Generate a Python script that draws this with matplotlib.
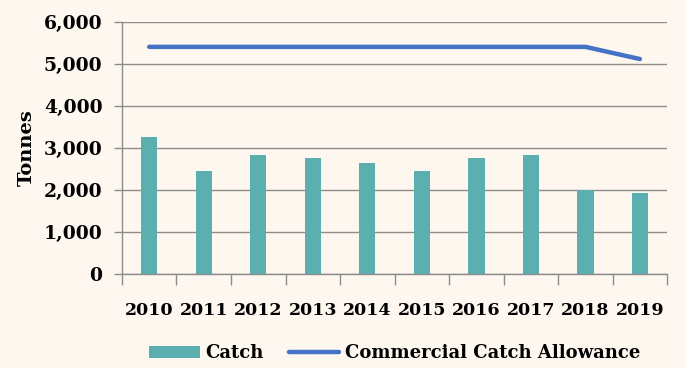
import numpy as np
import matplotlib
matplotlib.use("Agg")
import matplotlib.pyplot as plt

years = ["2010", "2011", "2012", "2013", "2014", "2015", "2016", "2017", "2018", "2019"]
catch = [3270, 2450, 2830, 2760, 2640, 2450, 2760, 2830, 2000, 1930]
allowance = [5410, 5410, 5410, 5410, 5410, 5410, 5410, 5410, 5410, 5120]

bg = '#fdf7f0'
grey = '#8c8c8c'
plt.rcParams['font.family'] = 'DejaVu Serif'
plt.rcParams['font.weight'] = 'bold'

fig = plt.figure(figsize=(6.85, 3.68), dpi=100, facecolor=bg)
ax = fig.add_axes([0.178, 0.255, 0.796, 0.685], facecolor=bg)

x = np.arange(len(years))
bars = ax.bar(x, catch, width=0.3, color='#5bafae', label='Catch', zorder=2)
line, = ax.plot(x, allowance, color='#4472c4', lw=3.2, solid_capstyle='round',
                label='Commercial Catch Allowance', zorder=3)

ax.set_xlim(-0.5, len(years) - 0.5)
ax.set_ylim(0, 6000)
ax.set_yticks(np.arange(0, 6001, 1000))
ax.set_yticklabels(['{:,}'.format(v) for v in range(0, 6001, 1000)], fontsize=13.5, fontweight='bold')
ax.set_xticks(x)
ax.set_xticklabels(years, fontsize=12.5, fontweight='bold')
ax.set_xticks(np.arange(-0.5, len(years)), minor=True)
ax.tick_params(axis='x', which='major', length=0, pad=20)
ax.tick_params(axis='x', which='minor', length=8, color=grey, width=1)
ax.tick_params(axis='y', length=6, color=grey, width=1, pad=8)
ax.grid(axis='y', color=grey, lw=1, zorder=0)
for s in ['top', 'right']:
    ax.spines[s].set_visible(False)
for s in ['left', 'bottom']:
    ax.spines[s].set_color(grey)
    ax.spines[s].set_linewidth(1)
ax.set_ylabel('Tonnes', fontsize=14, fontweight='bold', labelpad=6)

ax.legend([bars, line], ['Catch', 'Commercial Catch Allowance'],
          loc='upper center', bbox_to_anchor=(0.5, -0.25), ncol=2, frameon=False,
          prop={'weight': 'bold', 'size': 13}, handlelength=2.8, columnspacing=1.4,
          handletextpad=0.3, borderaxespad=0)

fig.savefig('out.png', dpi=100, facecolor=bg)
